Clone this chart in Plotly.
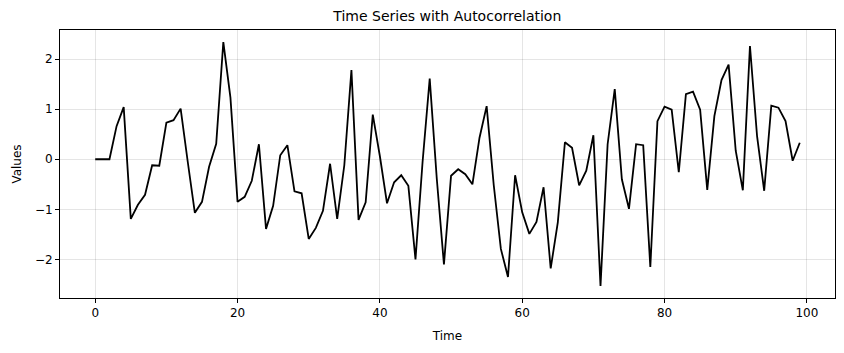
import plotly.graph_objects as go

time = list(range(100))
values = [
    0.0, 0.0, 0.0, 0.66, 1.04, -1.19, -0.91, -0.71, -0.12, -0.13,
    0.73, 0.78, 1.01, -0.05, -1.07, -0.85, -0.15, 0.31, 2.34, 1.23,
    -0.85, -0.75, -0.43, 0.30, -1.39, -0.93, 0.08, 0.28, -0.64, -0.68,
    -1.59, -1.37, -1.03, -0.09, -1.19, -0.12, 1.78, -1.21, -0.86, 0.89,
    0.06, -0.88, -0.46, -0.32, -0.53, -2.0, -0.05, 1.61, -0.4, -2.1,
    -0.33, -0.2, -0.3, -0.5, 0.43, 1.06, -0.52, -1.79, -2.35, -0.32,
    -1.06, -1.49, -1.25, -0.56, -2.18, -1.26, 0.34, 0.23, -0.52, -0.23,
    0.48, -2.53, 0.30, 1.40, -0.40, -0.99, 0.30, 0.28, -2.15, 0.76,
    1.05, 0.99, -0.26, 1.30, 1.35, 0.99, -0.61, 0.86, 1.58, 1.89,
    0.17, -0.62, 2.26, 0.46, -0.63, 1.07, 1.03, 0.76, -0.03, 0.33,
]
x_ticks = [0, 20, 40, 60, 80, 100]
y_ticks = [-2, -1, 0, 1, 2]

fig = go.Figure()
fig.add_trace(go.Scatter(x=time, y=values, mode="lines",
                         line=dict(color="black", width=1.8)))

axis_common = dict(
    showline=True, linecolor="black", linewidth=1, mirror=True,
    ticks="outside", ticklen=4, tickcolor="black", tickwidth=1,
    showgrid=True, gridcolor="rgba(0,0,0,0.1)", gridwidth=1,
    zeroline=False, tickfont=dict(size=12, color="black"),
)

fig.update_layout(
    width=844, height=353,
    margin=dict(l=60, r=9, t=30, b=55),
    paper_bgcolor="white", plot_bgcolor="white",
    font=dict(family="DejaVu Sans", color="black"),
    showlegend=False,
    title=dict(text="Time Series with Autocorrelation", x=0.53, xanchor="center",
               y=0.955, yanchor="middle", font=dict(size=14)),
    xaxis=dict(range=[-4.95, 103.95], tickvals=x_ticks,
               title=dict(text="Time", font=dict(size=12), standoff=12), **axis_common),
    yaxis=dict(range=[-2.77, 2.58], tickvals=y_ticks,
               title=dict(text="Values", font=dict(size=12), standoff=10), **axis_common),
)

fig.write_html("out.html")
